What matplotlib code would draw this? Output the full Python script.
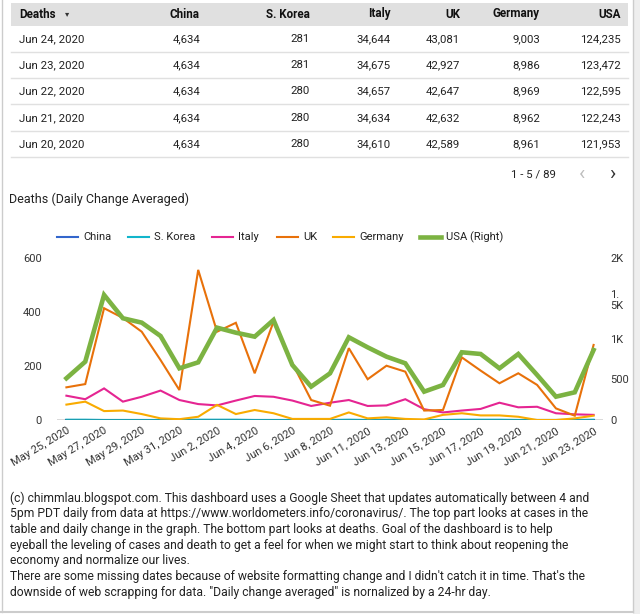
import matplotlib
matplotlib.use("Agg")
import matplotlib.pyplot as plt
from matplotlib.lines import Line2D
from matplotlib.patches import Rectangle

plt.rcParams['font.family'] = ['Roboto', 'DejaVu Sans']

# ---- table data ----
tbl_cols = ["China", "S. Korea", "Italy", "UK", "Germany", "USA"]
tbl_dates = ["Jun 24, 2020", "Jun 23, 2020", "Jun 22, 2020", "Jun 21, 2020", "Jun 20, 2020"]
tbl_china = [4634, 4634, 4634, 4634, 4634]
tbl_korea = [281, 281, 280, 280, 280]
tbl_italy = [34644, 34675, 34657, 34634, 34610]
tbl_uk = [43081, 42927, 42647, 42632, 42589]
tbl_germany = [9003, 8986, 8969, 8962, 8961]
tbl_usa = [124235, 123472, 122595, 122243, 121953]

# ---- chart data (daily change averaged) ----
dates = ["May 25, 2020", "May 26, 2020", "May 27, 2020", "May 28, 2020", "May 29, 2020",
         "May 30, 2020", "May 31, 2020", "Jun 1, 2020", "Jun 2, 2020", "Jun 3, 2020",
         "Jun 4, 2020", "Jun 5, 2020", "Jun 6, 2020", "Jun 7, 2020", "Jun 8, 2020",
         "Jun 10, 2020", "Jun 11, 2020", "Jun 12, 2020", "Jun 13, 2020", "Jun 14, 2020",
         "Jun 15, 2020", "Jun 16, 2020", "Jun 17, 2020", "Jun 18, 2020", "Jun 19, 2020",
         "Jun 20, 2020", "Jun 21, 2020", "Jun 22, 2020", "Jun 23, 2020"]
china = [0]*29
korea = [1, 1, 0, 0, 0, 0, 1, 1, 1, 1, 0, 0, 0, 0, 0, 1, 0, 1, 0, 0, 0, 1, 1, 1, 0, 0, 0, 0, 1]
italy = [90, 77, 117, 68, 86, 109, 74, 59, 54, 72, 89, 86, 72, 52, 64,
         74, 52, 54, 77, 40, 28, 35, 41, 64, 47, 49, 25, 21, 19]
uk = [121, 133, 414, 378, 327, 222, 111, 556, 327, 360, 173, 364, 210, 74, 53,
      266, 151, 201, 179, 35, 37, 232, 183, 136, 173, 130, 43, 16, 278]
germany = [57, 68, 33, 35, 22, 6, 3, 12, 56, 22, 37, 25, 4, 4, 4,
           28, 6, 10, 4, 2, 19, 25, 17, 17, 12, 0, 0, 6, 16]
usa = [515, 720, 1544, 1256, 1202, 1037, 638, 712, 1140, 1078, 1029, 1235, 679, 412, 576,
       1021, 897, 782, 700, 350, 432, 836, 815, 638, 815, 556, 288, 342, 864]

series = [("China", china, "#3366cc"), ("S. Korea", korea, "#12b5cb"),
          ("Italy", italy, "#e52592"), ("UK", uk, "#e8710a"),
          ("Germany", germany, "#f9ab00")]
usa_color = "#7cb342"

footnote = [
    "(c) chimmlau.blogspot.com. This dashboard uses a Google Sheet that updates automatically between 4 and",
    "5pm PDT daily from data at https://www.worldometers.info/coronavirus/. The top part looks at cases in the",
    "table and daily change in the graph. The bottom part looks at deaths. Goal of the dashboard is to help",
    "eyeball the leveling of cases and death to get a feel for when we might start to think about reopening the",
    "economy and normalize our lives.",
    "There are some missing dates because of website formatting change and I didn't catch it in time. That's the",
    "downside of web scrapping for data. \"Daily change averaged\" is nornalized by a 24-hr day.",
]

W, H = 640, 614
fig = plt.figure(figsize=(W/100, H/100), dpi=100)
fig.patch.set_facecolor("white")

def fx(x): return x / W
def fy(y): return 1 - y / H

# page frame
fig.add_artist(Rectangle((fx(633), 0), 1, 1, transform=fig.transFigure, color="#eeeeee", lw=0))
fig.add_artist(Line2D([fx(633), fx(633)], [fy(0), fy(612)], transform=fig.transFigure, color="#cccccc", lw=1))
fig.add_artist(Line2D([fx(1.5), fx(1.5)], [fy(0), fy(612)], transform=fig.transFigure, color="#cccccc", lw=1))
fig.add_artist(Line2D([0, fx(633)], [fy(612), fy(612)], transform=fig.transFigure, color="#cccccc", lw=1.5))

# ---- table ----
fig.add_artist(Rectangle((fx(11), fy(26)), fx(628) - fx(11), fy(3) - fy(26),
                         transform=fig.transFigure, color="#e0e0e0", lw=0))
col_right = [200, 310, 391, 460, 540, 621]
hdr_y, row_y = 14, [39, 65, 91, 118, 144]
txt = "#222222"
fig.text(fx(19), fy(hdr_y), "Deaths", fontsize=8.4, fontweight="bold", color="#111", va="center")
fig.text(fx(65), fy(hdr_y), "▾", fontsize=6, color="#333", va="center")
for c, xr in zip(tbl_cols, col_right):
    fig.text(fx(xr), fy(hdr_y), c, fontsize=8.4, fontweight="bold", color="#111", va="center", ha="right")
cols = [tbl_china, tbl_korea, tbl_italy, tbl_uk, tbl_germany, tbl_usa]
for i, d in enumerate(tbl_dates):
    fig.text(fx(19), fy(row_y[i]), d, fontsize=8.2, color=txt, va="center")
    for vals, xr in zip(cols, col_right):
        fig.text(fx(xr), fy(row_y[i]), f"{vals[i]:,}", fontsize=8.2, color=txt, va="center", ha="right")
    ysep = row_y[i] + 13
    fig.add_artist(Line2D([fx(11), fx(628)], [fy(ysep), fy(ysep)], transform=fig.transFigure,
                          color="#e0e0e0", lw=1))
fig.text(fx(556), fy(175), "1 - 5 / 89", fontsize=8.2, color=txt, va="center", ha="right")
fig.text(fx(582), fy(175), "‹", fontsize=15, color="#bdbdbd", va="center", ha="center")
fig.text(fx(612), fy(175), "›", fontsize=15, color="#333333", va="center", ha="center")

# ---- chart ----
fig.text(fx(9), fy(199), "Deaths (Daily Change Averaged)", fontsize=9, color="#222", va="center")

ax = fig.add_axes([fx(57), fy(420), fx(603) - fx(57), fy(258) - fy(420)])
x = list(range(len(dates)))
for name, vals, col in series:
    z = 2 if name in ("China", "S. Korea") else 4
    ax.plot(x, vals, color=col, lw=1.5, zorder=z, solid_joinstyle="miter")
ax.axhline(0, color="#444444", lw=1, zorder=3)
ax.set_xlim(-0.5, len(dates) - 0.5)
ax.set_ylim(0, 600)
ax.set_yticks([0, 200, 400, 600])
ax.set_xticks(x[::2])
ax.set_xticklabels(dates[::2], rotation=31, ha="right", rotation_mode="anchor")
ax.tick_params(axis="y", length=0, pad=11, labelsize=8, labelcolor="#333")
ax.tick_params(axis="x", length=0, pad=4, labelsize=8, labelcolor="#333")
for s in ax.spines.values():
    s.set_visible(False)
ax.patch.set_alpha(0)

ax2 = ax.twinx()
ax2.plot(x, usa, color=usa_color, lw=3.3, solid_joinstyle="miter", zorder=5)
ax2.set_ylim(0, 2000)
ax2.set_yticks([0, 500, 1000, 1500, 2000])
ax2.set_yticklabels(["0", "500", "1K", "1.\n5K", "2K"], ha="left")
ax2.tick_params(axis="y", length=0, pad=5, labelsize=8, labelcolor="#333")
for s in ax2.spines.values():
    s.set_visible(False)

# legend
leg_x = [57, 128, 212, 277, 333, 420]
leg_items = [(n, c, 1.5) for n, _, c in series] + [("USA (Right)", usa_color, 3.3)]
for (name, col, lw), lx in zip(leg_items, leg_x):
    fig.add_artist(Line2D([fx(lx), fx(lx + 21)], [fy(237), fy(237)], transform=fig.transFigure,
                          color=col, lw=lw))
    fig.text(fx(lx + 26), fy(237), name, fontsize=8, color="#222", va="center")

# ---- footnote ----
for i, line in enumerate(footnote):
    fig.text(fx(10), fy(498 + i * 15.7), line, fontsize=8.75, color="#222", va="center")

fig.savefig("out.png", dpi=100)
